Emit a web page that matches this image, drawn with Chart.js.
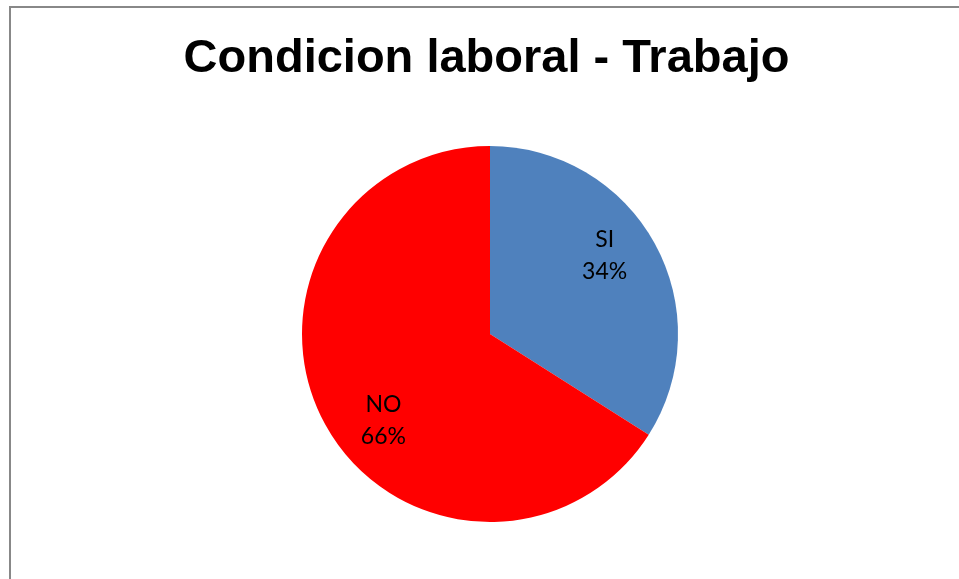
<!DOCTYPE html>
<html>
<head>
<meta charset="utf-8">
<script src="https://cdn.jsdelivr.net/npm/chart.js@4/dist/chart.umd.min.js"></script>
<style>
    html, body { margin: 0; padding: 0; background: #fff; }
    #wrap { position: relative; width: 959px; height: 579px; overflow: hidden; }
    #frame {
        position: absolute; left: 9px; top: 6px; width: 1000px; height: 600px;
        border: 2px solid #888; box-sizing: border-box;
    }
    #chart { position: absolute; left: 0; top: 0; }
</style>
</head>
<body>
<div id="wrap">
    <div id="frame"></div>
    <canvas id="chart" width="959" height="579"></canvas>
</div>
<script>
// Condicion laboral - Trabajo
var titleText = 'Condicion laboral - Trabajo';
var categories = ['SI', 'NO'];
var percents = [34, 66];
var sliceColors = ['#4F81BD', '#FF0000'];

// chart.js squeezes its own title into the padded area, so draw it by hand
var bigTitle = {
    id: 'bigTitle',
    afterDraw(chart) {
        var ctx = chart.ctx;
        ctx.save();
        ctx.fillStyle = '#000';
        ctx.font = 'bold 47px Arial, sans-serif';
        ctx.textAlign = 'center';
        ctx.textBaseline = 'alphabetic';
        ctx.fillText(titleText, 486.5, 72);
        ctx.restore();
    }
};

// draws "SI / 34%" style labels inside each slice
var sliceLabels = {
    id: 'sliceLabels',
    afterDatasetsDraw(chart) {
        var ctx = chart.ctx;
        var meta = chart.getDatasetMeta(0);
        ctx.save();
        ctx.fillStyle = '#000';
        ctx.font = '23px Lato, sans-serif';
        ctx.textAlign = 'center';
        ctx.textBaseline = 'middle';
        meta.data.forEach((arc, i) => {
            var p = arc.getProps(['x', 'y', 'startAngle', 'endAngle', 'outerRadius'], true);
            // excel's best fit sits a bit before the mid angle
            var mid = (p.startAngle + p.endAngle) / 2 - 0.14;
            var r = p.outerRadius * 0.735;
            var x = p.x + Math.cos(mid) * r + 4;
            var y = p.y + Math.sin(mid) * r + 4;
            ctx.fillText(categories[i], x, y - 16);
            ctx.fillText(percents[i] + '%', x, y + 16);
        });
        ctx.restore();
    }
};

new Chart(document.getElementById('chart'), {
    type: 'pie',
    data: {
        labels: categories,
        datasets: [{
            data: percents,
            backgroundColor: sliceColors,
            borderWidth: 0
        }]
    },
    options: {
        responsive: false,
        animation: false,
        layout: { padding: { left: 302, right: 281, top: 146, bottom: 57 } },
        plugins: {
            legend: { display: false },
            tooltip: { enabled: false },
            title: { display: false }
        }
    },
    plugins: [sliceLabels, bigTitle]
});
</script>
</body>
</html>
